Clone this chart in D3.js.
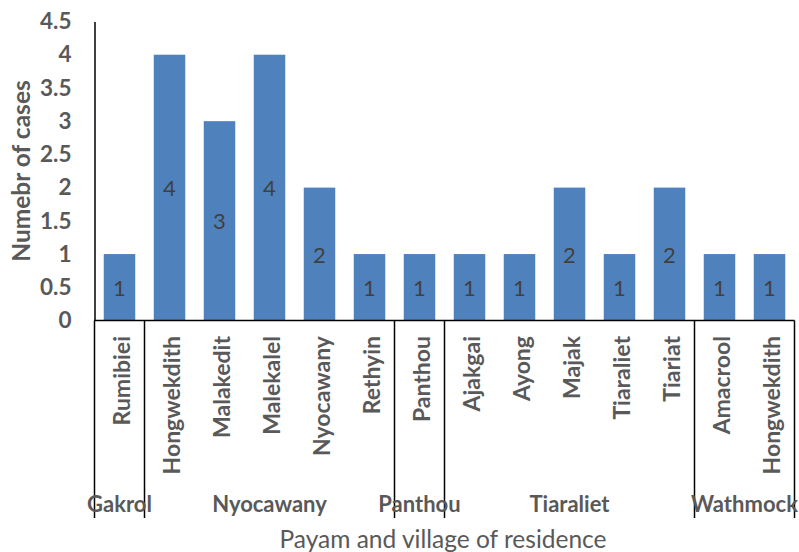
<!DOCTYPE html>
<html><head><meta charset="utf-8">
<script src="https://cdn.jsdelivr.net/npm/d3@7"></script>
<style>body{margin:0;background:#fff}svg{display:block}text{font-family:Lato,"Open Sans",sans-serif}</style>
</head><body><svg id="c" width="799" height="552"></svg>
<script>
const villages = ["Rumibiei","Hongwekdith","Malakedit","Malekalel","Nyocawany","Rethyin","Panthou","Ajakgai","Ayong","Majak","Tiaraliet","Tiariat","Amacrool","Hongwekdith"];
const cases = [1,4,3,4,2,1,1,1,1,2,1,2,1,1];
const payams = ["Gakrol","Nyocawany","Panthou","Tiaraliet","Wathmock"];
const payamSizes = [1,5,1,5,2];
const yTicks = [0,0.5,1,1.5,2,2.5,3,3.5,4,4.5];

const svg = d3.select("#c");
const L = 94.5, R = 794.5, T = 21.5, B = 320.5;
const x = d3.scaleBand().domain(d3.range(villages.length)).range([L, R]).paddingInner(0.37).paddingOuter(0.185);
const y = d3.scaleLinear().domain([0, 4.5]).range([B, T]);
const grey = "#595959";

// bars
svg.append("g").selectAll("rect").data(cases).join("rect")
  .attr("x", (d,i) => x(i)).attr("width", x.bandwidth())
  .attr("y", d => y(d)).attr("height", d => y(0) - y(d))
  .attr("fill", "#4F81BD");

// data labels
svg.append("g").selectAll("text").data(cases).join("text")
  .attr("x", (d,i) => x(i) + x.bandwidth()/2).attr("y", d => y(d/2))
  .attr("text-anchor","middle").attr("dominant-baseline","central")
  .attr("font-size", 22).attr("fill", "#404040").text(d => d);

// y axis
const yAxis = d3.axisLeft(y).tickValues(yTicks).tickSize(0).tickPadding(23).tickFormat(d3.format("~g"));
const gy = svg.append("g").attr("transform", `translate(${L},0)`).call(yAxis);
gy.select(".domain").attr("stroke", "#000").attr("stroke-width", 1.5);
gy.selectAll("text").attr("font-size", 22.5).attr("font-weight", "bold").attr("fill", grey).attr("font-family","Lato");

// x axis line
svg.append("line").attr("x1", L).attr("x2", R).attr("y1", B).attr("y2", B).attr("stroke", "#000").attr("stroke-width", 1.5);

// group dividers
const step = x.step();
let bounds = [0];
payamSizes.forEach(s => bounds.push(bounds[bounds.length-1] + s));
svg.append("g").selectAll("line").data(bounds).join("line")
  .attr("x1", b => L + b*step).attr("x2", b => L + b*step)
  .attr("y1", B).attr("y2", 518).attr("stroke", "#000").attr("stroke-width", 1.5);

// village labels
svg.append("g").selectAll("text").data(villages).join("text")
  .attr("transform", (d,i) => `translate(${x(i) + x.bandwidth()/2 + 1},336) rotate(-90)`)
  .attr("text-anchor", "end").attr("dominant-baseline", "central")
  .attr("font-size", 23).attr("font-weight", "bold").attr("fill", grey).text(d => d);

// payam labels
svg.append("g").selectAll("text").data(payams).join("text")
  .attr("x", (d,i) => L + (bounds[i] + payamSizes[i]/2)*step)
  .attr("y", 503).attr("text-anchor","middle").attr("dominant-baseline","central")
  .attr("font-size", 22).attr("font-weight", "bold").attr("fill", grey).text(d => d);

// axis titles
svg.append("text").attr("x", 443).attr("y", 538).attr("text-anchor","middle").attr("dominant-baseline","central")
  .attr("font-size", 24.5).attr("fill", grey).text("Payam and village of residence");
svg.append("text").attr("transform", "translate(20,171) rotate(-90)").attr("text-anchor","middle").attr("dominant-baseline","central")
  .attr("font-size", 24.5).attr("font-weight","bold").attr("fill", grey).text("Numebr of cases");
</script></body></html>
